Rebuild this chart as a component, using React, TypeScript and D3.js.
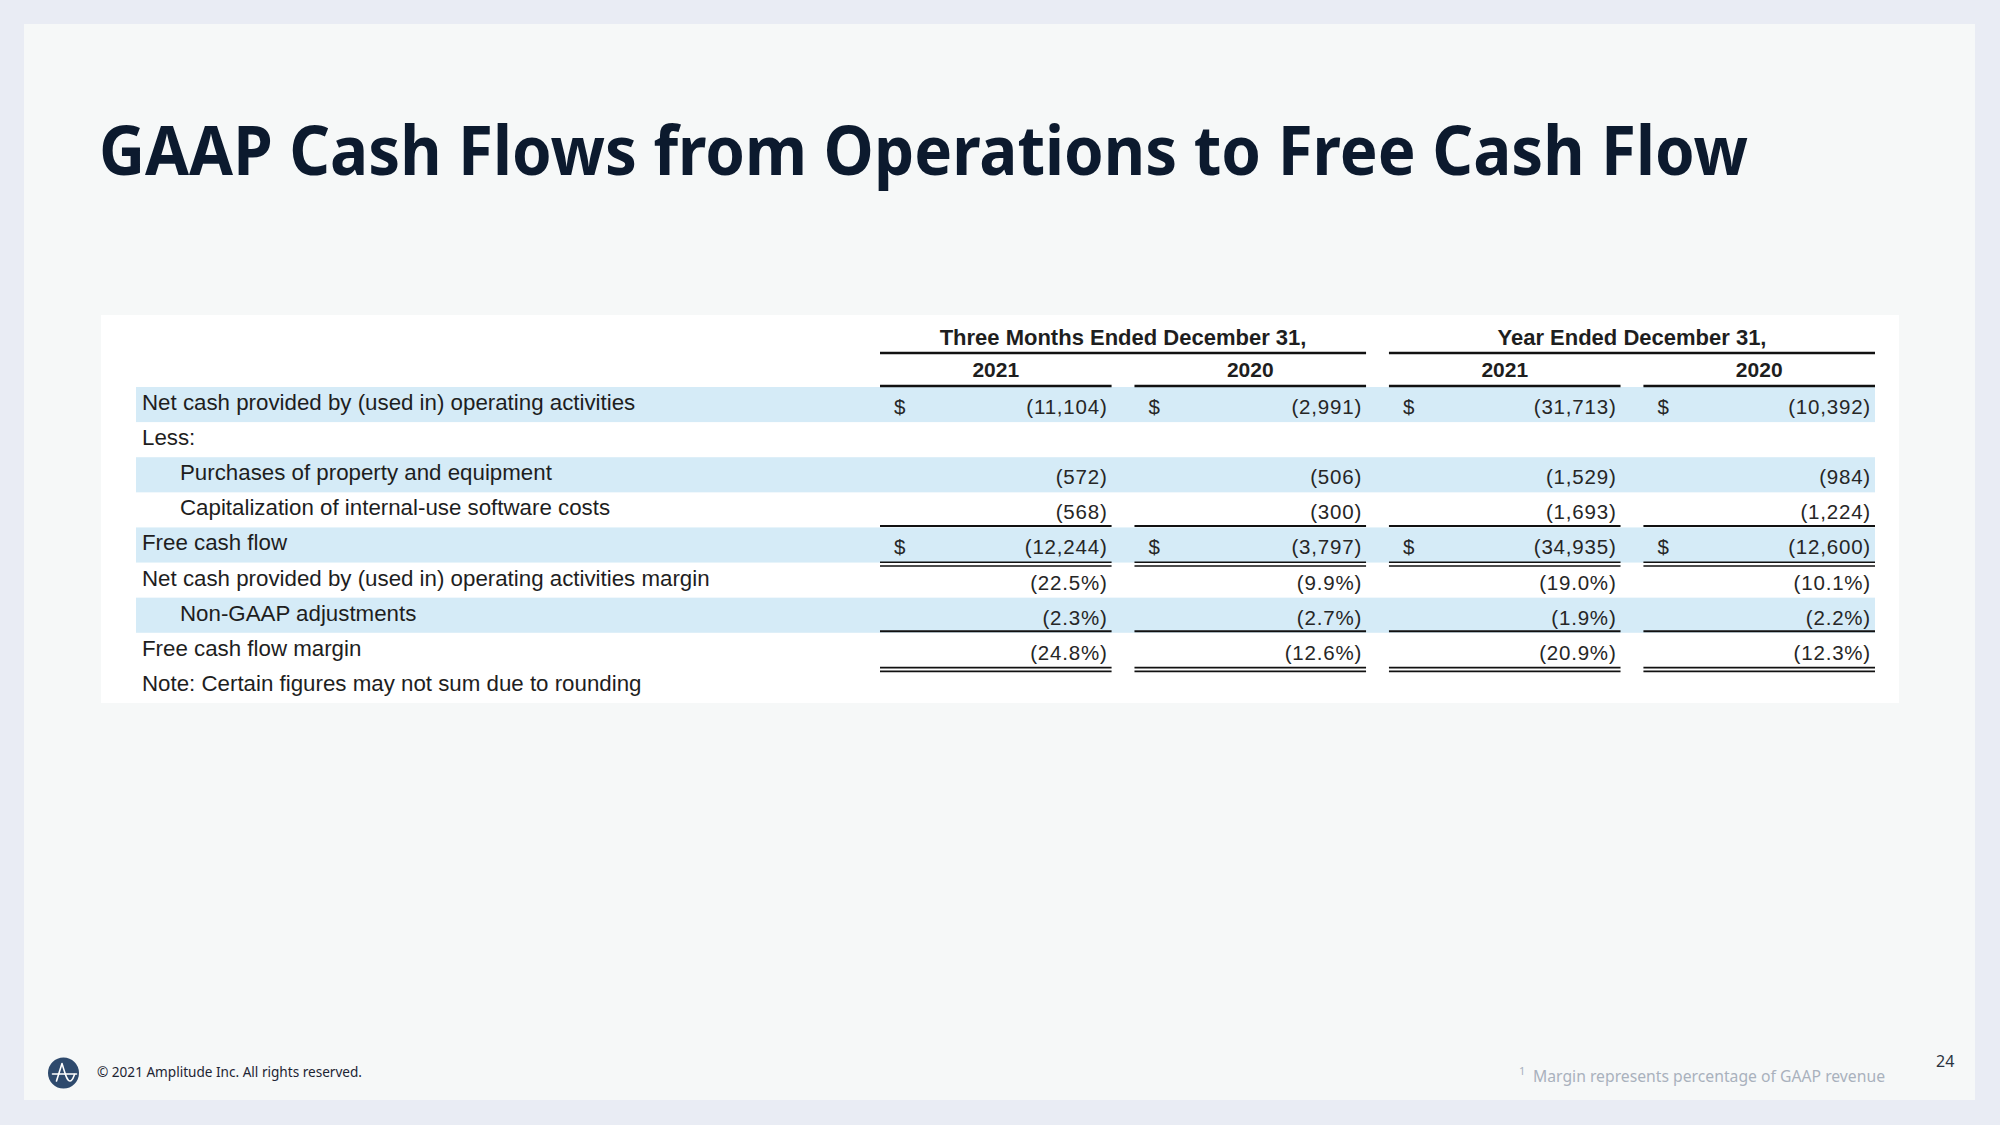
import * as d3 from "d3";

// table content
const rowLabels = [
  "Net cash provided by (used in) operating activities",
  "Less:",
  "Purchases of property and equipment",
  "Capitalization of internal-use software costs",
  "Free cash flow",
  "Net cash provided by (used in) operating activities margin",
  "Non-GAAP adjustments",
  "Free cash flow margin",
  "Note: Certain figures may not sum due to rounding",
];
const indented = [false, false, true, true, false, false, true, false, false];
const striped = [true, false, true, false, true, false, true, false, false];
const dollarRows = [0, 4];
const percentRows = [5, 6, 7];

const periods = ["Three Months Ended December 31,", "Year Ended December 31,"];
const years = ["2021", "2020", "2021", "2020"];

// one array per column, one value per row (null = blank)
const q4_2021 = [-11104, null, -572, -568, -12244, -22.5, -2.3, -24.8, null];
const q4_2020 = [-2991, null, -506, -300, -3797, -9.9, -2.7, -12.6, null];
const fy2021 = [-31713, null, -1529, -1693, -34935, -19.0, -1.9, -20.9, null];
const fy2020 = [-10392, null, -984, -1224, -12600, -10.1, -2.2, -12.3, null];
const columns = [q4_2021, q4_2020, fy2021, fy2020];

// rules: single line on top of these rows, double line on top of those
const singleRuleRows = [4, 7];
const doubleRuleRows = [5, 8];

const W = 2000;
const H = 1125;

const fmtNum = d3.format(",");
const fmtPct = d3.format(".1f");
function fmt(v: number | null, row: number) {
  if (v == null) return "";
  const a = Math.abs(v);
  const s = percentRows.includes(row) ? fmtPct(a) + "%" : fmtNum(a);
  return v < 0 ? `(${s})` : s;
}

export default function App() {
  const y = d3.scaleBand<number>().domain(d3.range(rowLabels.length)).range([387, 703]);
  const x = d3.scaleBand<number>().domain(d3.range(columns.length)).range([880, 1875]).paddingInner(0.09);
  const bw = x.bandwidth();
  const tableFont = "'Liberation Sans', Arial, Helvetica, sans-serif";
  const slideFont = "'Noto Sans', 'Open Sans', sans-serif";

  return (
    <svg width={W} height={H} style={{ position: "absolute", left: 0, top: 0, display: "block" }}>
      <rect width={W} height={H} fill="#e9ecf4" />
      <rect x={24} y={24} width={1951} height={1076} fill="#f6f8f8" />

      <text x={99} y={175} fontFamily={slideFont} fontWeight={700} fontSize={68} fill="#0c1a2e"
        textLength={1649} lengthAdjust="spacingAndGlyphs">
        GAAP Cash Flows from Operations to Free Cash Flow
      </text>

      {/* table image area */}
      <rect x={101} y={315} width={1798} height={388} fill="#ffffff" />

      <g fontFamily={tableFont}>
        {rowLabels.map((_, i) =>
          striped[i] ? <rect key={i} x={136} y={y(i)} width={1875 - 136} height={y.bandwidth()} fill="#d5ebf7" /> : null
        )}

        {/* period headers */}
        {periods.map((p, g) => {
          const x0 = x(2 * g)!;
          const x1 = x(2 * g + 1)! + bw;
          return (
            <g key={p}>
              <text x={(x0 + x1) / 2} y={345} textAnchor="middle" fontWeight={700} fontSize={22} fill="#1e1e1e">{p}</text>
              <line x1={x0} x2={x1} y1={353} y2={353} stroke="#111" strokeWidth={2.5} />
            </g>
          );
        })}
        {years.map((yr, c) => (
          <g key={c}>
            <text x={x(c)! + bw / 2} y={377} textAnchor="middle" fontWeight={700} fontSize={21} fill="#1e1e1e">{yr}</text>
            <line x1={x(c)!} x2={x(c)! + bw} y1={386} y2={386} stroke="#111" strokeWidth={2.5} />
          </g>
        ))}

        {/* row labels */}
        {rowLabels.map((l, i) => (
          <text key={l} x={indented[i] ? 180 : 142} y={y(i)! + 23} fontSize={22.3} fill="#1e1e1e">{l}</text>
        ))}

        {/* values */}
        {columns.map((col, c) => (
          <g key={c} fontSize={20.5} fill="#262626" letterSpacing={0.8}>
            {col.map((v, i) => (
              <g key={i}>
                {v != null && dollarRows.includes(i) ? (
                  <text x={x(c)! + 14} y={y(i)! + 27}>$</text>
                ) : null}
                <text x={x(c)! + bw - 4} y={y(i)! + 27} textAnchor="end">{fmt(v, i)}</text>
              </g>
            ))}
            {singleRuleRows.map((r) => (
              <line key={"s" + r} x1={x(c)!} x2={x(c)! + bw} y1={y(r)! - 1.5} y2={y(r)! - 1.5} stroke="#111" strokeWidth={2} />
            ))}
            {doubleRuleRows.map((r) => (
              <g key={"d" + r}>
                <line x1={x(c)!} x2={x(c)! + bw} y1={y(r)! - 0.3} y2={y(r)! - 0.3} stroke="#111" strokeWidth={1.6} />
                <line x1={x(c)!} x2={x(c)! + bw} y1={y(r)! + 3.5} y2={y(r)! + 3.5} stroke="#111" strokeWidth={1.6} />
              </g>
            ))}
          </g>
        ))}
      </g>

      {/* footer */}
      <circle cx={63.5} cy={1073} r={15.5} fill="#2e4a6d" />
      <g fill="none" stroke="#fff" strokeWidth={1.6} strokeLinecap="round" strokeLinejoin="round">
        <path d="M56.5,1081 L62,1063.5 C64.5,1071 66.5,1081 70,1081 C72.5,1081 73.5,1077 74.5,1074.5" />
        <path d="M52.5,1074 L76.5,1074" />
      </g>
      <text x={97} y={1077} fontFamily={slideFont} fontSize={14.5} fill="#1d2533"
        textLength={265} lengthAdjust="spacingAndGlyphs">
        © 2021 Amplitude Inc.  All rights reserved.
      </text>

      <text x={1519} y={1075} fontFamily={slideFont} fontSize={11} fill="#a9b1bd">1</text>
      <text x={1533} y={1082} fontFamily={slideFont} fontSize={17} fill="#a9b1bd"
        textLength={352} lengthAdjust="spacingAndGlyphs">
        Margin represents percentage of GAAP revenue
      </text>
      <text x={1936} y={1067} fontFamily={slideFont} fontSize={16} fill="#2b3340">24</text>
    </svg>
  );
}
